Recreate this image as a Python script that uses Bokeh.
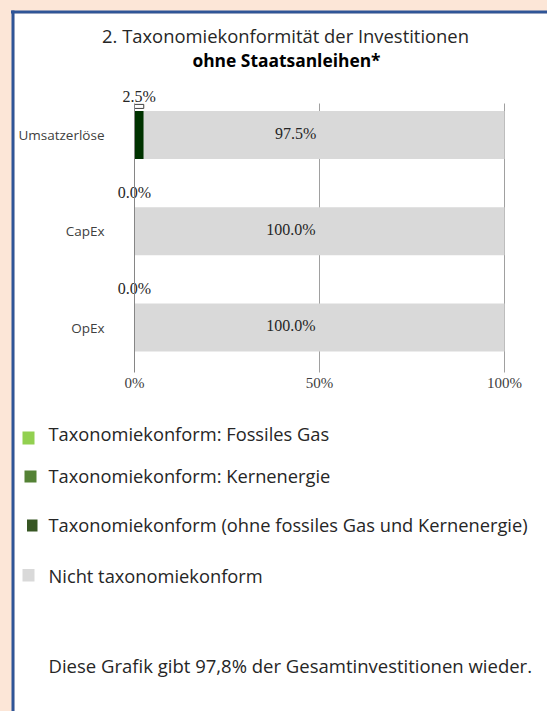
from bokeh.plotting import figure
from bokeh.models import Range1d, FixedTicker, ColumnDataSource, GlobalInlineStyleSheet
from bokeh.core.properties import value
from bokeh.embed import file_html
from bokeh.resources import INLINE

# ---------------- data ----------------
categories = ["Umsatzerlöse", "CapEx", "OpEx"]
fossil_gas = [0.0, 0.0, 0.0]
nuclear = [0.0, 0.0, 0.0]
aligned_other = [2.5, 0.0, 0.0]
not_aligned = [97.5, 100.0, 100.0]
x_ticks = [0, 50, 100]
x_tick_labels = ["0%", "50%", "100%"]
series_names = ["Taxonomiekonform: Fossiles Gas",
                "Taxonomiekonform: Kernenergie",
                "Taxonomiekonform (ohne fossiles Gas und Kernenergie)",
                "Nicht taxonomiekonform"]
legend_colors = ["#92D050", "#548235", "#375623", "#D9D9D9"]
bar_colors = ["#92D050", "#548235", "#003300", "#D9D9D9"]
title_1 = "2. Taxonomiekonformität der Investitionen"
title_2 = "ohne Staatsanleihen*"
footnote = "Diese Grafik gibt 97,8% der Gesamtinvestitionen wieder."

# ---------------- layout (page pixels) ----------------
W, H = 547, 711
X0_PX, PX_PER_PCT = 134, 3.7        # where 0 % sits, scale
ROW0_PX, ROW_PX = 134.5, 96.25       # first row centre, row spacing
PLOT_TOP_PX, PLOT_BOT_PX = 103, 372  # vertical extent of axis / grid lines
BAR_H = 0.5

PEACH = "#FCE6D7"
BLUE = "#2F5597"
TXT = "#262626"


def row_val(py):
    return (py - ROW0_PX) / ROW_PX


pos = list(range(len(categories)))
y_top, y_bot = row_val(PLOT_TOP_PX), row_val(PLOT_BOT_PX)

p = figure(width=W, height=H, output_backend="svg", toolbar_location=None,
           x_range=Range1d(-X0_PX / PX_PER_PCT, (W - X0_PX) / PX_PER_PCT),
           y_range=Range1d(start=row_val(H), end=row_val(0)),
           min_border=0, min_border_left=0, min_border_right=0,
           min_border_top=0, min_border_bottom=0)
p.extra_x_ranges = {"px": Range1d(0, W)}
p.extra_y_ranges = {"px": Range1d(H, 0)}
p.title.visible = False
p.outline_line_color = None
p.background_fill_color = PEACH
p.border_fill_color = PEACH
p.stylesheets = [GlobalInlineStyleSheet(
    css="html, body { margin: 0; padding: 0; overflow: hidden; background-color: %s; }" % PEACH)]

PX = dict(x_range_name="px", y_range_name="px")

# page frame: white card with blue top / left border
p.quad(left=[14], right=[W], top=[13], bottom=[H], fill_color="white", line_color=None, **PX)
p.quad(left=[10.5, 11], right=[W, 14], top=[10, 10], bottom=[13, H],
       fill_color=BLUE, line_color=None, **PX)

# ---------------- grid lines ----------------
grid_x = [t for t in x_ticks if t > 0]
p.segment(x0=grid_x, x1=grid_x, y0=[y_top] * len(grid_x), y1=[y_bot] * len(grid_x),
          line_color="#A0A0A0", line_width=1)

# ---------------- bars ----------------
src = ColumnDataSource(dict(pos=pos, cat=categories, gas=fossil_gas, nuc=nuclear,
                            aligned=aligned_other, notal=not_aligned))
p.hbar_stack(["gas", "nuc", "aligned", "notal"], y="pos", height=BAR_H,
             color=bar_colors, line_color=None, source=src)

# small call-out box above the aligned segment
cb = [i for i in pos if aligned_other[i] > 0]
starts = [fossil_gas[i] + nuclear[i] for i in cb]
p.quad(left=starts, right=[starts[k] + aligned_other[i] for k, i in enumerate(cb)],
       top=[i - BAR_H / 2 - 0.068 for i in cb], bottom=[i - BAR_H / 2 - 0.026 for i in cb],
       fill_color="white", line_color="#404040", line_width=1)

# data labels
p.text(x=[fossil_gas[i] + nuclear[i] + aligned_other[i] / 2 for i in pos],
       y=[i - BAR_H / 2 for i in pos],
       text=["%.1f%%" % v for v in aligned_other], y_offset=-14.5,
       text_align="center", text_baseline="middle",
       text_font=value("Liberation Serif"), text_font_size="16px", text_color=TXT)
p.text(x=[fossil_gas[i] + nuclear[i] + aligned_other[i] + not_aligned[i] / 2 for i in pos],
       y=pos, text=["%.1f%%" % v for v in not_aligned], x_offset=-28.5, y_offset=-2,
       text_align="center", text_baseline="middle",
       text_font=value("Liberation Serif"), text_font_size="16px", text_color=TXT)

# ---------------- axes ----------------
p.xgrid.visible = False
p.ygrid.visible = False

p.xaxis.fixed_location = y_bot
p.xaxis.ticker = FixedTicker(ticks=x_ticks)
p.xaxis.major_label_overrides = dict(zip(x_ticks, x_tick_labels))
p.xaxis.axis_line_color = None
p.xaxis.major_tick_line_color = None
p.xaxis.minor_tick_line_color = None
p.xaxis.major_tick_out = 0
p.xaxis.major_tick_in = 0
p.xaxis.major_label_standoff = 2
p.xaxis.major_label_text_font = "Liberation Serif"
p.xaxis.major_label_text_font_size = "15px"
p.xaxis.major_label_text_color = "#404040"

p.yaxis.fixed_location = 0
p.yaxis.bounds = (min(y_top, y_bot), max(y_top, y_bot))
p.yaxis.ticker = FixedTicker(ticks=pos)
p.yaxis.major_label_overrides = dict(zip(pos, categories))
p.yaxis.axis_line_color = "#868686"
p.yaxis.major_tick_line_color = None
p.yaxis.minor_tick_line_color = None
p.yaxis.major_tick_out = 0
p.yaxis.major_tick_in = 0
p.yaxis.major_label_standoff = 30
p.yaxis.major_label_text_font = "Open Sans"
p.yaxis.major_label_text_font_size = "13.5px"
p.yaxis.major_label_text_color = "#404040"

# ---------------- titles ----------------
p.text(x=[285], y=[35], text=[title_1], text_align="center", text_baseline="middle",
       text_font=value("Open Sans"), text_font_size="18.4px", text_color=TXT, **PX)
p.text(x=[286], y=[59.5], text=[title_2], text_align="center", text_baseline="middle",
       text_font=value("Open Sans"), text_font_size="17.4px", text_font_style="bold",
       text_color="black", **PX)

# ---------------- legend ----------------
leg_l = [22, 24, 26.5, 22]
leg_r = [34, 36, 37, 34]
leg_t = [431, 470, 519, 568.5]
leg_b = [444, 482, 531, 581]
leg_y = [433, 475, 523.5, 574.5]
p.quad(left=leg_l, right=leg_r, top=leg_t, bottom=leg_b, fill_color=legend_colors,
       line_color=None, **PX)
p.text(x=[48] * len(series_names), y=leg_y, text=series_names, text_align="left",
       text_baseline="middle", text_font=value("Open Sans"), text_font_size="18.3px",
       text_color=TXT, **PX)

p.text(x=[48], y=[665], text=[footnote], text_align="left", text_baseline="middle",
       text_font=value("Open Sans"), text_font_size="18.5px", text_color=TXT, **PX)

open("out.html", "w").write(file_html(p, INLINE))
